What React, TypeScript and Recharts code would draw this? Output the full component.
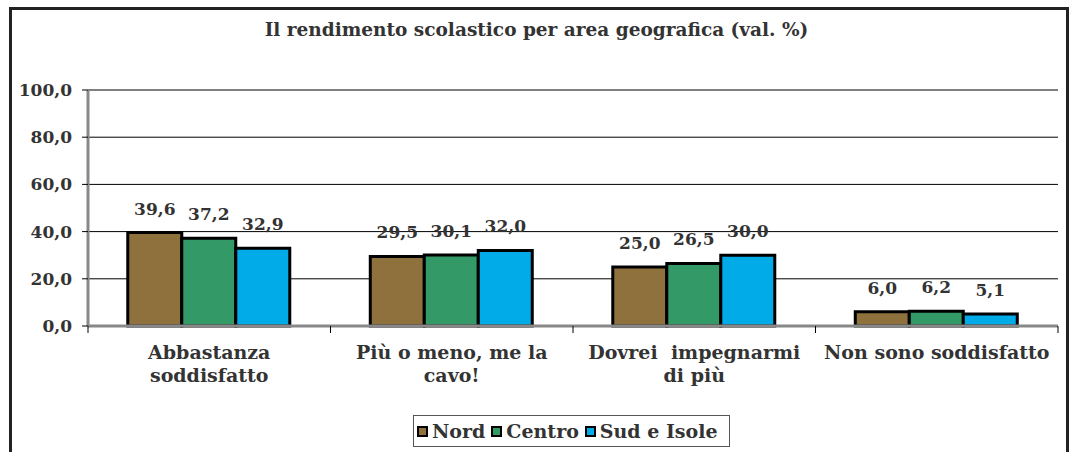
import {
	BarChart,
	Bar,
	XAxis,
	YAxis,
	CartesianGrid,
	LabelList,
} from "recharts";

const categories = [
	"Abbastanza\nsoddisfatto",
	"Più o meno, me la\ncavo!",
	"Dovrei  impegnarmi\ndi più",
	"Non sono soddisfatto",
];
const nord = [39.6, 29.5, 25.0, 6.0];
const centro = [37.2, 30.1, 26.5, 6.2];
const sudIsole = [32.9, 32.0, 30.0, 5.1];
const yTicks = [0, 20, 40, 60, 80, 100];

const series = [
	{ key: "nord", name: "Nord", color: "#8E713C" },
	{ key: "centro", name: "Centro", color: "#339966" },
	{ key: "sud", name: "Sud e Isole", color: "#00ABE8" },
];

const data = categories.map((name, i) => ({
	name,
	nord: nord[i],
	centro: centro[i],
	sud: sudIsole[i],
}));

const W = 1073;
const H = 452;
const PLOT_LEFT = 88;
const PLOT_RIGHT = 15;
const BAND = (W - PLOT_LEFT - PLOT_RIGHT) / categories.length;
const FONT = "'DejaVu Serif', serif";
const TEXT = "#333333";

const fmt = (v: number) => v.toFixed(1).replace(".", ",");

const CategoryTick = (props: any) => {
	const { x, y, payload, index } = props;
	const lines = String(payload.value).split("\n");
	return (
		<g>
			<line x1={x - BAND / 2} x2={x - BAND / 2} y1={y} y2={y + 7} stroke="#000" />
			{index === categories.length - 1 && (
				<line x1={x + BAND / 2} x2={x + BAND / 2} y1={y} y2={y + 7} stroke="#000" />
			)}
			<text
				x={x}
				y={y + 33}
				textAnchor="middle"
				fontFamily={FONT}
				fontWeight="bold"
				fontSize={19}
				fill={TEXT}
			>
				{lines.map((l, i) => (
					<tspan key={i} x={x} dy={i === 0 ? 0 : 23} style={{ whiteSpace: "pre" }}>
						{l}
					</tspan>
				))}
			</text>
		</g>
	);
};

const LegendBox = () => (
	<div
		style={{
			display: "inline-flex",
			alignItems: "center",
			border: "1px solid #555",
			padding: "4px 5px 4px 3px",
			background: "#fff",
			fontFamily: FONT,
			fontWeight: "bold",
			fontSize: 19,
			color: TEXT,
		}}
	>
		{series.map((s) => (
			<span key={s.key} style={{ display: "inline-flex", alignItems: "center", marginRight: 6 }}>
				<span
					style={{
						display: "inline-block",
						width: 7,
						height: 7,
						background: s.color,
						border: "2px solid #000",
						marginRight: 4,
					}}
				/>
				{s.name}
			</span>
		))}
	</div>
);

export default function App() {
	return (
		<div style={{ position: "absolute", left: 0, top: 0, width: W, height: H, background: "#fff", overflow: "hidden" }}>
			<div
				style={{
					position: "absolute",
					left: 9,
					top: 7,
					width: 1060,
					height: 460,
					border: "3px solid #222",
					boxSizing: "border-box",
				}}
			/>
			<div
				style={{
					position: "absolute",
					top: 19,
					left: 0,
					width: W,
					textAlign: "center",
					fontFamily: FONT,
					fontWeight: "bold",
					fontSize: 18.5,
					color: TEXT,
				}}
			>
				Il rendimento scolastico per area geografica (val. %)
			</div>
			<div style={{ position: "absolute", left: 0, top: 0 }}>
				<BarChart
					width={W}
					height={H}
					data={data}
					margin={{ top: 90, right: PLOT_RIGHT, bottom: 0, left: 8 }}
					barCategoryGap="16.4%"
					barGap={0}
				>
					<CartesianGrid vertical={false} stroke="#000" strokeWidth={1} />
					<XAxis
						dataKey="name"
						interval={0}
						height={126}
						tickLine={false}
						tickSize={0}
						tickMargin={0}
						axisLine={{ stroke: "#888", strokeWidth: 3 }}
						tick={<CategoryTick />}
					/>
					<YAxis
						width={80}
						domain={[0, 100]}
						ticks={yTicks}
						interval={0}
						tickSize={6}
						tickMargin={10}
						tickLine={{ stroke: "#000" }}
						axisLine={{ stroke: "#888", strokeWidth: 3 }}
						tickFormatter={fmt}
						tick={{ fontFamily: FONT, fontWeight: "bold", fontSize: 17, fill: TEXT }}
					/>
					<YAxis
						yAxisId="r"
						orientation="right"
						width={0}
						domain={[0, 100]}
						tick={false}
						tickLine={false}
						axisLine={{ stroke: "#888", strokeWidth: 3 }}
					/>
					{series.map((s) => (
						<Bar
							key={s.key}
							dataKey={s.key}
							name={s.name}
							fill={s.color}
							stroke="#000"
							strokeWidth={3}
							isAnimationActive={false}
						>
							<LabelList
								dataKey={s.key}
								position="top"
								offset={18}
								formatter={(v: any) => fmt(Number(v))}
								style={{ fontFamily: FONT, fontWeight: "bold", fontSize: 17, fill: TEXT }}
							/>
						</Bar>
					))}
				</BarChart>
			</div>
			<div style={{ position: "absolute", left: 413, top: 415 }}>
				<LegendBox />
			</div>
		</div>
	);
}
